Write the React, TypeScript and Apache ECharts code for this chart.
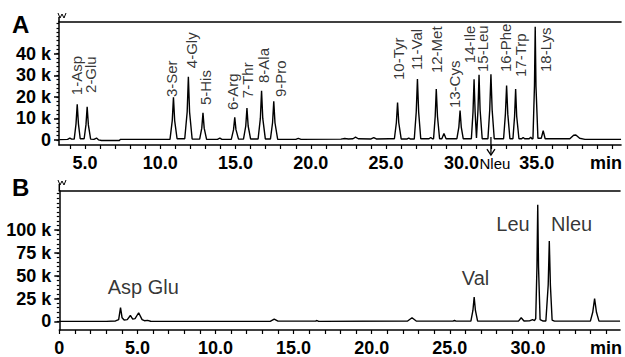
import React, { useEffect, useRef } from 'react';
import * as echarts from 'echarts';

// Panel A chromatogram trace: [time (min), signal (k)]
const traceA: [number, number][] = [
  [3.3, 0.2], [3.85, 0.3], [4.0, 0.9], [4.12, 0.4],
  [4.29, 0.4], [4.41, 7.5], [4.49, 16.5], [4.57, 7.5], [4.69, 0.6],
  [4.95, 0.6], [5.07, 7], [5.15, 15.4], [5.23, 7], [5.38, 0.4],
  [5.6, 0.3], [5.77, 0.9], [5.9, 0.1], [6.1, -0.2], [7.3, -0.2], [7.35, 0.3],
  [10.65, 0.3], [10.8, 9], [10.88, 19.8], [10.96, 9], [11.12, 0.6],
  [11.63, 0.6], [11.79, 13], [11.87, 29.3], [11.95, 13], [12.12, 0.5],
  [12.62, 0.4], [12.76, 5.5], [12.84, 12.6], [12.92, 5.5], [13.08, 0.3],
  [13.8, 0.3], [13.96, 0.9], [14.1, 0.3],
  [14.72, 0.3], [14.87, 4.8], [14.95, 10.5], [15.03, 4.8], [15.2, 0.4],
  [15.53, 0.4], [15.68, 6.5], [15.76, 14.8], [15.84, 6.5], [16.0, 0.5],
  [16.5, 0.5], [16.65, 10], [16.73, 22.8], [16.81, 10], [16.98, 0.5],
  [17.32, 0.5], [17.46, 8], [17.54, 17.9], [17.62, 8], [17.8, 0.3],
  [19.0, 0.3], [19.17, 0.8], [19.35, 0.3],
  [22.0, 0.4], [22.25, 0.7], [22.5, 0.5], [22.8, 0.6], [22.97, 1.3], [23.15, 0.6],
  [24.0, 0.5], [24.18, 1.1], [24.35, 0.5], [25.2, 0.6],
  [25.55, 0.6], [25.68, 8], [25.76, 17.4], [25.84, 8], [26.0, 0.5],
  [26.4, 0.5], [26.5, 0.9], [26.6, 0.5],
  [26.87, 0.5], [27.0, 13], [27.08, 28.2], [27.16, 13], [27.3, 0.6],
  [27.85, 0.6], [27.96, 1.2], [28.07, 0.6],
  [28.15, 0.6], [28.26, 11], [28.33, 23.6], [28.41, 11], [28.55, 0.6],
  [28.7, 0.6], [28.84, 3.0], [28.98, 0.6],
  [29.7, 0.6], [29.83, 6], [29.91, 13.6], [29.99, 6], [30.12, 0.6],
  [30.5, 0.6],
  [30.66, 0.6], [30.77, 13], [30.84, 28.2], [30.91, 13], [31.0, 1.0],
  [31.03, 1.0], [31.1, 14], [31.17, 30.2], [31.24, 14], [31.38, 0.6],
  [31.76, 0.6], [31.88, 14], [31.96, 30.5], [32.04, 14], [32.18, 0.6],
  [32.8, 0.6], [32.92, 12], [33.0, 25.3], [33.08, 12], [33.22, 0.6],
  [33.42, 0.6], [33.53, 11], [33.6, 23.6], [33.67, 11], [33.82, 0.6],
  [34.0, 0.6], [34.1, 1.2], [34.2, 0.6], [34.5, 0.6], [34.6, 1.3], [34.68, 0.6],
  [34.75, 0.6], [34.85, 25], [34.9, 52.5], [34.95, 25], [35.08, 0.8],
  [35.3, 0.8], [35.43, 4.3], [35.56, 0.6],
  [37.2, 0.6], [37.45, 2.2], [37.6, 2.3], [37.85, 0.8], [38.2, 0.3], [40.6, 0.3],
];

// Panel B chromatogram trace: [time (min), signal (k)]
const traceB: [number, number][] = [
  [0, 0], [3.0, 0], [3.6, 0.5], [3.8, 2], [3.92, 15], [4.02, 4], [4.15, 1.5],
  [4.35, 2], [4.55, 6.5], [4.7, 2.5], [4.85, 3], [5.08, 9.5], [5.3, 2],
  [5.45, 0.8], [5.65, 1.2], [5.85, 0.2], [6.2, 0],
  [13.5, 0], [13.76, 2.5], [14.0, 0.3], [16.4, 0.3], [16.5, 1], [16.6, 0],
  [22.3, 0.5], [22.58, 4], [22.85, 0.5], [25.2, 0.3], [25.3, 1], [25.4, 0.3],
  [26.35, 0.3], [26.48, 12], [26.56, 26.7], [26.64, 12], [26.78, 0.3],
  [29.4, 0.3], [29.57, 4], [29.75, 0.5], [30.1, 0.6], [30.3, 2], [30.42, 1],
  [30.5, 3], [30.58, 60], [30.63, 127.7], [30.68, 60], [30.78, 2], [30.95, 0.5],
  [31.15, 0.5], [31.3, 40], [31.37, 88], [31.44, 40], [31.55, 1.5], [31.7, 0.3],
  [34.0, 0.3], [34.15, 10], [34.27, 24.9], [34.39, 10], [34.55, 0.3], [35.9, 0.3],
];

// Panel A peak labels
const peakNamesA = ['1-Asp', '2-Glu', '3-Ser', '4-Gly', '5-His', '6-Arg', '7-Thr', '8-Ala', '9-Pro',
  '10-Tyr', '11-Val', '12-Met', '13-Cys', '14-Ile', '15-Leu', '16-Phe', '17-Trp', '18-Lys'];
const peakLabelTimesA = [4.47, 5.39, 10.76, 12.05, 13.04, 14.82, 15.81, 16.86, 17.98,
  25.83, 27.01, 28.33, 29.52, 30.51, 31.43, 32.95, 33.93, 35.58];
const peakLabelLevelsA = [20.8, 21.8, 19.9, 33.3, 16.2, 13.9, 19.4, 26.4, 19.9,
  27.8, 32.4, 31.0, 14.8, 35.6, 31.5, 31.5, 29.2, 31.5];

// Internal standard marker in panel A
const markerNameA = 'Nleu';
const markerTimeA = 31.96;

// Panel B annotations
const annNamesB = ['Asp Glu', 'Val', 'Leu', 'Nleu'];
const annTimesB = [5.38, 26.65, 29.05, 32.8];
const annLevelsB = [37.9, 47.6, 107, 107];

// Axis tick labels
const xLabelValuesA = [5, 10, 15, 20, 25, 30, 35, 39.6];
const xLabelValuesB = [0, 5, 10, 15, 20, 25, 30, 35];
const yLabelValuesA = [0, 10, 20, 30, 40];
const yLabelValuesB = [0, 25, 50, 75, 100];

const range = (a: number, b: number, s: number) => {
  const out: number[] = [];
  for (let v = a; v <= b + 1e-9; v += s) out.push(Math.round(v * 100) / 100);
  return out;
};

const FONT = 'Liberation Sans, Arial, Helvetica, sans-serif';
const BLACK = '#000';

export default function App() {
  const ref = useRef<HTMLDivElement>(null);
  useEffect(() => {
    if (!ref.current) return;
    const chart = echarts.init(ref.current, undefined, { renderer: 'svg' });

    const xRangeA = { min: 3.28, max: 40.6 };
    const xRangeB = { min: 0, max: 35.9 };
    const yRangeA = { min: -2.3, max: 54.9 };
    const yRangeB = { min: -9.4, max: 142.9 };

    const axisLine = { show: true, lineStyle: { color: BLACK, width: 1.5 } };
    const tickLabel = { fontSize: 18, fontWeight: 'bold' as const, color: BLACK, fontFamily: FONT };

    const xMain = (grid: number, r: any, labels: number[], fmt: (v: number) => string) => ({
      type: 'value', gridIndex: grid, ...r, position: 'bottom',
      axisLine: { ...axisLine, onZero: false },
      axisTick: { show: true, customValues: range(Math.ceil(r.min), Math.floor(r.max), 1), length: 4, lineStyle: { color: BLACK, width: 1.2 } },
      axisLabel: { ...tickLabel, customValues: labels, formatter: fmt, margin: 9 },
      splitLine: { show: false },
    });
    const xTop = (grid: number, r: any) => ({
      type: 'value', gridIndex: grid, ...r, position: 'top',
      axisLine: { ...axisLine, onZero: false }, axisTick: { show: false }, axisLabel: { show: false }, splitLine: { show: false },
    });
    const yMain = (grid: number, r: any, labels: number[]) => ({
      type: 'value', gridIndex: grid, ...r, position: 'left',
      axisLine: { ...axisLine, onZero: false },
      axisTick: { show: true, customValues: labels, length: 5, lineStyle: { color: BLACK, width: 1.5 } },
      axisLabel: { ...tickLabel, customValues: labels, formatter: (v: number) => (v === 0 ? '0' : `${v} k`), margin: 8 },
      splitLine: { show: false },
    });
    const yMinor = (grid: number, r: any, step: number) => ({
      type: 'value', gridIndex: grid, ...r, position: 'left',
      axisLine: { show: false },
      axisTick: { show: true, customValues: range(0, Math.floor(r.max), step), length: 2.5, lineStyle: { color: BLACK, width: 1.2 } },
      axisLabel: { show: false },
      splitLine: { show: false },
    });

    chart.setOption({
      animation: false,
      backgroundColor: '#fff',
      textStyle: { fontFamily: FONT },
      grid: [
        { left: 59, top: 21.5, width: 566, height: 123.5 },
        { left: 59.3, top: 191, width: 565.7, height: 140.7 },
      ],
      xAxis: [
        xMain(0, xRangeA, xLabelValuesA, (v) => (v > 38 ? 'min' : v.toFixed(1))),
        xTop(0, xRangeA),
        xMain(1, xRangeB, xLabelValuesB, (v) => (v === 0 ? '0' : v >= 35 ? 'min' : v.toFixed(1))),
        xTop(1, xRangeB),
      ],
      yAxis: [
        yMain(0, yRangeA, yLabelValuesA),
        yMinor(0, yRangeA, 2),
        yMain(1, yRangeB, yLabelValuesB),
        yMinor(1, yRangeB, 5),
      ],
      series: [
        {
          type: 'line', xAxisIndex: 0, yAxisIndex: 0, data: traceA, showSymbol: false, silent: true,
          lineStyle: { color: BLACK, width: 1.4 }, clip: true,
        },
        {
          type: 'scatter', xAxisIndex: 0, yAxisIndex: 0, symbolSize: 1, silent: true,
          itemStyle: { color: 'rgba(0,0,0,0)' },
          data: peakNamesA.map((n, i) => ({ name: n, value: [peakLabelTimesA[i], peakLabelLevelsA[i]] })),
          label: {
            show: true, formatter: '{b}', position: 'inside', align: 'left', verticalAlign: 'middle',
            rotate: 90, fontSize: 15, color: BLACK, fontFamily: FONT,
          },
        },
        {
          type: 'line', xAxisIndex: 2, yAxisIndex: 2, data: traceB, showSymbol: false, silent: true,
          lineStyle: { color: BLACK, width: 1.4 }, clip: true,
        },
        {
          type: 'scatter', xAxisIndex: 2, yAxisIndex: 2, symbolSize: 1, silent: true,
          itemStyle: { color: 'rgba(0,0,0,0)' },
          data: annNamesB.map((n, i) => ({ name: n, value: [annTimesB[i], annLevelsB[i]] })),
          label: {
            show: true, formatter: '{b}', position: 'inside', align: 'center', verticalAlign: 'middle',
            fontSize: 20, color: BLACK, fontFamily: FONT,
          },
        },
      ],
    });

    const p = chart.convertToPixel({ xAxisIndex: 0, yAxisIndex: 0 }, [markerTimeA, 0]) as number[];
    const squiggle = (x: number, y: number) => ({
      type: 'polyline', silent: true,
      shape: { points: [[x - 1, y], [x + 1, y + 5], [x + 3, y + 1], [x + 5, y + 5], [x + 7, y]] },
      style: { stroke: BLACK, lineWidth: 1, fill: 'none' },
    });
    chart.setOption({
      graphic: [
        { type: 'text', left: 12, top: 12, style: { text: 'A', font: `bold 24px ${FONT}`, fill: BLACK } },
        { type: 'text', left: 12, top: 175, style: { text: 'B', font: `bold 24px ${FONT}`, fill: BLACK } },
        squiggle(59, 13),
        squiggle(59, 180),
        { type: 'line', silent: true, shape: { x1: 59, y1: 17, x2: 59, y2: 21.5 }, style: { stroke: BLACK, lineWidth: 1.5 } },
        { type: 'line', silent: true, shape: { x1: 59.3, y1: 184, x2: 59.3, y2: 191 }, style: { stroke: BLACK, lineWidth: 1.5 } },
        { type: 'line', silent: true, shape: { x1: p[0], y1: p[1] - 3, x2: p[0], y2: p[1] + 15 }, style: { stroke: BLACK, lineWidth: 1.3 } },
        {
          type: 'polyline', silent: true,
          shape: { points: [[p[0] - 4, p[1] + 9], [p[0], p[1] + 15], [p[0] + 4, p[1] + 9]] },
          style: { stroke: BLACK, lineWidth: 1.3, fill: 'none' },
        },
        {
          type: 'text', silent: true, x: p[0] + 4, y: p[1] + 23,
          style: { text: markerNameA, font: `15px ${FONT}`, fill: BLACK, align: 'center', verticalAlign: 'middle' },
        },
      ],
    });

    return () => chart.dispose();
  }, []);

  return (
    <div
      ref={ref}
      style={{ position: 'fixed', left: 0, top: 0, width: 625, height: 357, background: '#fff' }}
    />
  );
}
